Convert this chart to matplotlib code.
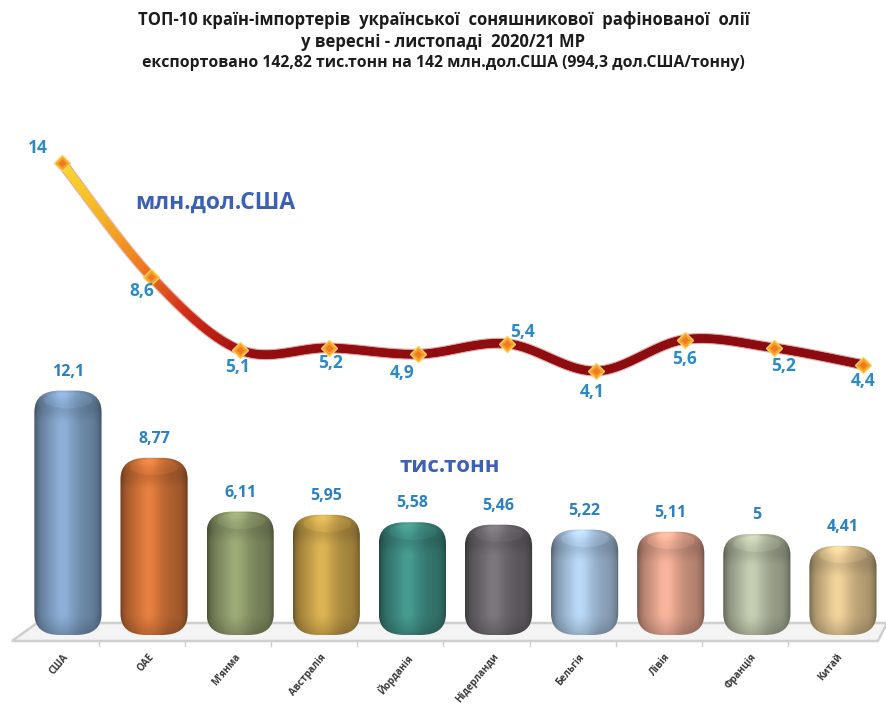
import numpy as np
import matplotlib
matplotlib.use("Agg")
import matplotlib.pyplot as plt
from matplotlib.patches import FancyBboxPatch, Polygon
from matplotlib.collections import LineCollection
from matplotlib.colors import LinearSegmentedColormap, to_rgb
import matplotlib.transforms as mtransforms

# ---- data ----
countries = ["США", "ОАЕ", "М'янма", "Австралія", "Йорданія",
             "Нідерланди", "Бельгія", "Лівія", "Франція", "Китай"]
volume_kt = [12.1, 8.77, 6.11, 5.95, 5.58, 5.46, 5.22, 5.11, 5.0, 4.41]
value_musd = [14, 8.6, 5.1, 5.2, 4.9, 5.4, 4.1, 5.6, 5.2, 4.4]
volume_labels = ["12,1", "8,77", "6,11", "5,95", "5,58", "5,46", "5,22", "5,11", "5", "4,41"]
value_labels = ["14", "8,6", "5,1", "5,2", "4,9", "5,4", "4,1", "5,6", "5,2", "4,4"]
bar_colors = ["#7f9fc4", "#d07238", "#8d9a6b", "#c8a24a", "#3e8b81",
              "#6f6a70", "#a8c4e1", "#e2a38c", "#b3bba1", "#dbbf8c"]

title_lines = [
    "ТОП-10 країн-імпортерів  української  соняшникової  рафінованої  олії",
    "у вересні - листопаді  2020/21 МР",
    "експортовано 142,82 тис.тонн на 142 млн.дол.США (994,3 дол.США/тонну)",
]

FONT = "Open Sans"
LABEL_BLUE = "#2a8bcb"
UNIT_BLUE = "#3b60b4"

W, H, DPI = 887, 707, 100
fig = plt.figure(figsize=(W / DPI, H / DPI), dpi=DPI)
fig.patch.set_facecolor("white")

# plot area in pixels (from top-left)
left_px, right_px, top_px, base_px = 20.6, 881.7, 100.0, 635.0
rect = [left_px / W, (H - base_px) / H, (right_px - left_px) / W, (base_px - top_px) / H]

# ---- bars axis ----
ax1 = fig.add_axes(rect)
ax1.set_xlim(-0.55, 9.45)
ax1.set_ylim(0, (base_px - top_px) / 20.2)
for s in ax1.spines.values():
    s.set_visible(False)
ax1.set_yticks([])
ax1.set_facecolor("none")

# floor of the 3D plot area
floor = Polygon([(-0.010, -0.0112), (0.9956, -0.0112), (1.0061, 0.0224), (0.019, 0.0224)],
                closed=True, transform=ax1.transAxes, facecolor="#f4f4f4",
                edgecolor="#cfcfcf", lw=1.8, clip_on=False, zorder=0)
ax1.add_patch(floor)
for i in range(len(countries) - 1):
    ax1.plot([i + 0.36, i + 0.36], [-0.0112, -0.02], transform=ax1.get_xaxis_transform(),
             color="#cfcfcf", lw=1, clip_on=False, zorder=0)

bw = 0.78
rx = 0.30
ry = 1.05
for i, (v, c) in enumerate(zip(volume_kt, bar_colors)):
    x0 = i - bw / 2
    patch = FancyBboxPatch((x0, 0), bw, v, boxstyle=f"round,pad=0,rounding_size={rx}",
                           mutation_aspect=ry / rx, facecolor="none", edgecolor="none", zorder=2)
    ax1.add_patch(patch)
    nx, ny = 80, 200
    u = np.linspace(0, 1, nx)[None, :]
    yy = np.linspace(v, 0, ny)[:, None]
    shade = 0.80 + 0.28 * np.exp(-((u - 0.42) / 0.24) ** 2)
    shade = shade - 0.28 * (np.abs(u - 0.5) * 2) ** 8
    # darker toward the bottom rim and the top shoulder
    bottom = np.clip(1 - yy / ry, 0, 1)
    shade = shade * (1 - 0.18 * bottom ** 1.5)
    top_d = np.clip((yy - (v - ry * 1.6)) / (ry * 1.6), 0, 1)
    shade = shade * (1 - 0.10 * np.sin(np.pi * top_d) ** 2)
    # light top face
    ell = ((u - 0.5) / 0.36) ** 2 + ((yy - (v - ry * 0.45)) / (ry * 0.38)) ** 2
    shade = shade + 0.07 * (ell < 1)
    base = np.array(to_rgb(c))
    img = np.clip(base[None, None, :] * shade[..., None]
                  + 0.25 * np.clip(shade - 1.0, 0, None)[..., None], 0, 1)
    im = ax1.imshow(img, extent=(x0, x0 + bw, 0, v), aspect="auto",
                    interpolation="bilinear", zorder=2)
    im.set_clip_path(patch)
    ax1.annotate(volume_labels[i], (i, v), xytext=(0, 11), textcoords="offset pixels",
                 ha="center", va="bottom", fontsize=11.5, fontweight="bold",
                 color="#2a80c4", family=FONT, zorder=5)

ax1.set_xticks(range(len(countries)))
ax1.set_xticklabels(countries, rotation=50, ha="right", va="top",
                    rotation_mode="anchor", fontsize=7, fontweight="bold",
                    color="#3a3a3a", family=FONT)
ax1.tick_params(axis="x", length=0, pad=12)
shift = mtransforms.ScaledTranslation(-6 / DPI, 0, fig.dpi_scale_trans)
for lab in ax1.get_xticklabels():
    lab.set_transform(lab.get_transform() + shift)

ax1.text(4.43, 8.35, "тис.тонн", ha="center", va="center", fontsize=16,
         fontweight="bold", color=UNIT_BLUE, family=FONT, zorder=5)

# ---- value line axis ----
ax2 = fig.add_axes(rect)
ax2.set_xlim(-0.465, 9.21)
ax2.set_ylim(5.1 - (base_px - 350) / 21.0, 5.1 + (350 - top_px) / 21.0)
ax2.axis("off")
ax2.patch.set_alpha(0)

xs = np.arange(len(value_musd), dtype=float)
ys = np.array(value_musd, dtype=float)

# Catmull-Rom smoothing of the drawn curve
def smooth_curve(x, y, n=40):
    px, py = [], []
    m = len(x)
    for k in range(m - 1):
        p0 = (x[max(k - 1, 0)], y[max(k - 1, 0)])
        p1 = (x[k], y[k])
        p2 = (x[k + 1], y[k + 1])
        p3 = (x[min(k + 2, m - 1)], y[min(k + 2, m - 1)])
        t = np.linspace(0, 1, n, endpoint=(k == m - 2))
        for a, out in ((0, px), (1, py)):
            c0, c1, c2, c3 = p0[a], p1[a], p2[a], p3[a]
            out.extend(0.5 * (2 * c1 + (-c0 + c2) * t
                              + (2 * c0 - 5 * c1 + 4 * c2 - c3) * t ** 2
                              + (-c0 + 3 * c1 - 3 * c2 + c3) * t ** 3))
    return np.array(px), np.array(py)

cx, cy = smooth_curve(xs, ys)
pts = np.column_stack([cx, cy]).reshape(-1, 1, 2)
segs = np.concatenate([pts[:-1], pts[1:]], axis=1)
cmap = LinearSegmentedColormap.from_list(
    "heat", [(0.0, "#f8dc2a"), (0.05, "#f6b324"), (0.10, "#ef7a1f"),
             (0.16, "#cf2a18"), (0.24, "#930d10"), (1.0, "#8a0b10")])
glow = LineCollection(segs, colors="#b01a14", linewidths=8, alpha=0.15,
                      capstyle="round", zorder=2)
ax2.add_collection(glow)
lc = LineCollection(segs, cmap=cmap, norm=plt.Normalize(0, 9), linewidths=6,
                    capstyle="round", joinstyle="round", zorder=3)
lc.set_array((segs[:, 0, 0] + segs[:, 1, 0]) / 2)
ax2.add_collection(lc)
ax2.plot(xs, ys, linestyle="none", marker="D", markersize=8, markerfacecolor="#f5a030",
         markeredgecolor="#ffd25a", markeredgewidth=1.0, zorder=4)
ax2.plot(xs, ys, linestyle="none", marker="D", markersize=4, markerfacecolor="#f07a1c",
         markeredgecolor="none", zorder=4)

value_offsets = [(-24, 15), (-9, -15), (-2, -17), (2, -15), (-16, -19),
                 (16, 12), (-4, -21), (-1, -20), (9, -18), (0, -16)]
for i, (v, lab) in enumerate(zip(value_musd, value_labels)):
    dx, dy = value_offsets[i]
    ax2.annotate(lab, (i, v), xytext=(dx, dy), textcoords="offset pixels",
                 ha="center", va="center", fontsize=12.5, fontweight="bold",
                 color=LABEL_BLUE, family=FONT, zorder=5)

ax2.text(1.72, 5.1 + (350 - 203) / 21.0, "млн.дол.США", ha="center", va="center",
         fontsize=16.5, fontweight="bold", color=UNIT_BLUE, family=FONT, zorder=5)

# ---- title ----
fig.text(0.5, 1 - 20 / H, title_lines[0], ha="center", va="center", fontsize=12,
         fontweight="bold", color="#1c1c1c", family=FONT)
fig.text(0.5, 1 - 42 / H, title_lines[1], ha="center", va="center", fontsize=12,
         fontweight="bold", color="#1c1c1c", family=FONT)
fig.text(0.5, 1 - 63 / H, title_lines[2], ha="center", va="center", fontsize=11.3,
         fontweight="bold", color="#1c1c1c", family=FONT)

fig.savefig("out.png", dpi=DPI, facecolor="white")
